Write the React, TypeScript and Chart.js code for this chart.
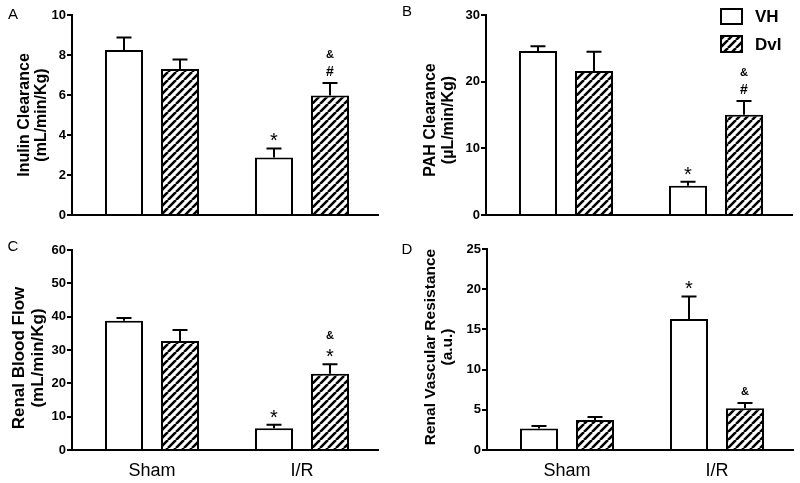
import React, { useEffect, useRef } from "react";
import { Chart, registerables } from "chart.js";
Chart.register(...registerables);

// ---------- data ----------
const groups = ["Sham", "I/R"];
const seriesNames = ["VH", "DvI"];

const inulinVH = [8.25, 2.88];
const inulinVHErr = [0.63, 0.45];
const inulinDvI = [7.3, 5.98];
const inulinDvIErr = [0.48, 0.62];
const inulinMarksVH = [[], ["*"]];
const inulinMarksDvI = [[], ["#", "&"]];
const inulinTicks = { max: 10, step: 2 };

const pahVH = [24.6, 4.4];
const pahVHErr = [0.7, 0.6];
const pahDvI = [21.6, 15.05];
const pahDvIErr = [2.9, 2.05];
const pahMarksVH = [[], ["*"]];
const pahMarksDvI = [[], ["#", "&"]];
const pahTicks = { max: 30, step: 10 };

const rbfVH = [38.8, 6.5];
const rbfVHErr = [0.8, 1.1];
const rbfDvI = [32.7, 22.9];
const rbfDvIErr = [3.3, 2.8];
const rbfMarksVH = [[], ["*"]];
const rbfMarksDvI = [[], ["*", "&"]];
const rbfTicks = { max: 60, step: 10 };

const rvrVH = [2.66, 16.3];
const rvrVHErr = [0.33, 2.8];
const rvrDvI = [3.74, 5.19];
const rvrDvIErr = [0.37, 0.67];
const rvrMarksVH = [[], ["*"]];
const rvrMarksDvI = [[], ["&"]];
const rvrTicks = { max: 25, step: 5 };

const FONT = "'Liberation Sans', Arial, Helvetica, sans-serif";

type Panel = {
  letter: string;
  title: string[];
  vh: number[]; vhErr: number[]; dv: number[]; dvErr: number[];
  marksVH: string[][]; marksDvI: string[][];
  ticks: { max: number; step: number };
  // layout
  left: number; top: number; w: number; h: number;
  axisX: number; plotTop: number; plotBottom: number;
  titleX: number[]; titleY: number; titleSize: number;
  letterPos: number[];
  showX: boolean; legend: boolean;
};

const panels: Panel[] = [
  {
    letter: "A", title: ["Inulin Clearance", "(mL/min/Kg)"],
    vh: inulinVH, vhErr: inulinVHErr, dv: inulinDvI, dvErr: inulinDvIErr,
    marksVH: inulinMarksVH, marksDvI: inulinMarksDvI, ticks: inulinTicks,
    left: 0, top: 0, w: 400, h: 240, axisX: 72, plotTop: 15, plotBottom: 215,
    titleX: [25, 42], titleY: 115, titleSize: 16, letterPos: [13, 15],
    showX: false, legend: false,
  },
  {
    letter: "B", title: ["PAH Clearance", "(\u00b5L/min/Kg)"],
    vh: pahVH, vhErr: pahVHErr, dv: pahDvI, dvErr: pahDvIErr,
    marksVH: pahMarksVH, marksDvI: pahMarksDvI, ticks: pahTicks,
    left: 400, top: 0, w: 400, h: 240, axisX: 86, plotTop: 15, plotBottom: 215,
    titleX: [31, 49], titleY: 120, titleSize: 16, letterPos: [7, 12],
    showX: false, legend: true,
  },
  {
    letter: "C", title: ["Renal Blood Flow", "(mL/min/Kg)"],
    vh: rbfVH, vhErr: rbfVHErr, dv: rbfDvI, dvErr: rbfDvIErr,
    marksVH: rbfMarksVH, marksDvI: rbfMarksDvI, ticks: rbfTicks,
    left: 0, top: 240, w: 400, h: 243, axisX: 72, plotTop: 10, plotBottom: 210,
    titleX: [19, 38], titleY: 118, titleSize: 17, letterPos: [13, 7],
    showX: true, legend: false,
  },
  {
    letter: "D", title: ["Renal Vascular Resistance", "(a.u.)"],
    vh: rvrVH, vhErr: rvrVHErr, dv: rvrDvI, dvErr: rvrDvIErr,
    marksVH: rvrMarksVH, marksDvI: rvrMarksDvI, ticks: rvrTicks,
    left: 400, top: 240, w: 400, h: 243, axisX: 87, plotTop: 9, plotBottom: 210,
    titleX: [31, 48], titleY: 107, titleSize: 15.5, letterPos: [7, 10],
    showX: true, legend: false,
  },
];

function makeHatch(): CanvasPattern | string {
  const s = 8;
  const c = document.createElement("canvas");
  c.width = s; c.height = s;
  const g = c.getContext("2d");
  if (!g) return "#888";
  g.fillStyle = "#fff";
  g.fillRect(0, 0, s, s);
  g.strokeStyle = "#000";
  g.lineWidth = 2.6;
  g.beginPath();
  for (let k = -1; k <= 1; k++) {
    g.moveTo(k * s, s);
    g.lineTo(k * s + s, 0);
  }
  g.stroke();
  return g.createPattern(c, "repeat") as CanvasPattern;
}

function drawMarks(ctx: CanvasRenderingContext2D, marks: string[], x: number, topY: number) {
  let cy = topY - 12;
  marks.forEach((m) => {
    ctx.textAlign = "center";
    ctx.textBaseline = "alphabetic";
    if (m === "*") {
      ctx.font = `20px ${FONT}`;
      ctx.fillText(m, x, cy + 11);
    } else if (m === "#") {
      ctx.font = `bold 14px ${FONT}`;
      ctx.fillText(m, x, cy + 5);
    } else {
      ctx.font = `bold 11px ${FONT}`;
      ctx.fillText(m, x, cy + 4);
    }
    cy -= 17;
  });
}

function PanelChart({ p }: { p: Panel }) {
  const ref = useRef<HTMLCanvasElement | null>(null);
  useEffect(() => {
    if (!ref.current) return;
    const hatch = makeHatch();
    const errs = [p.vhErr, p.dvErr];
    const marks = [p.marksVH, p.marksDvI];
    const fills = ["#fff", hatch];

    const overlay = {
      id: "overlay" + p.letter,
      afterDatasetsDraw(chart: any) {
        const ctx: CanvasRenderingContext2D = chart.ctx;
        const ys = chart.scales.y;
        ctx.save();
        ctx.fillStyle = "#000";
        ctx.strokeStyle = "#000";
        ctx.lineWidth = 2;
        [0, 1].forEach((di) => {
          const meta = chart.getDatasetMeta(di);
          meta.data.forEach((bar: any, i: number) => {
            const v = chart.data.datasets[di].data[i].y;
            const base = ys.getPixelForValue(v);
            const top = ys.getPixelForValue(v + errs[di][i]);
            ctx.beginPath();
            ctx.moveTo(bar.x, base);
            ctx.lineTo(bar.x, top);
            ctx.moveTo(bar.x - 7.5, top);
            ctx.lineTo(bar.x + 7.5, top);
            ctx.stroke();
            drawMarks(ctx, marks[di][i], bar.x, top);
          });
        });
        ctx.restore();
      },
      afterDraw(chart: any) {
        const ctx: CanvasRenderingContext2D = chart.ctx;
        ctx.save();
        ctx.fillStyle = "#000";
        // panel letter
        ctx.font = `15px ${FONT}`;
        ctx.textAlign = "center";
        ctx.textBaseline = "middle";
        ctx.fillText(p.letter, p.letterPos[0], p.letterPos[1]);
        // y title
        ctx.font = `bold ${p.titleSize}px ${FONT}`;
        p.title.forEach((line, k) => {
          ctx.save();
          ctx.translate(p.titleX[k], p.titleY);
          ctx.rotate(-Math.PI / 2);
          ctx.textAlign = "center";
          ctx.textBaseline = "middle";
          ctx.fillText(line, 0, 0);
          ctx.restore();
        });
        if (p.legend) {
          const bx = 321;
          const boxes = [[9, 15], [36, 16]];
          seriesNames.forEach((name, k) => {
            ctx.fillStyle = fills[k] as any;
            ctx.fillRect(bx, boxes[k][0], 21, boxes[k][1]);
            ctx.strokeStyle = "#000";
            ctx.lineWidth = 2;
            ctx.strokeRect(bx, boxes[k][0], 21, boxes[k][1]);
            ctx.fillStyle = "#000";
            ctx.font = `bold 17px ${FONT}`;
            ctx.textAlign = "left";
            ctx.textBaseline = "middle";
            ctx.fillText(name, 355, boxes[k][0] + boxes[k][1] / 2 + 1);
          });
        }
        ctx.restore();
      },
    };

    const plotRight = p.axisX + 306;
    const xMin = 1 - 80 / 150;
    const xMax = 2 + 76 / 150;

    const chart = new Chart(ref.current, {
      type: "bar",
      data: {
        datasets: [
          {
            label: seriesNames[0],
            data: groups.map((_, i) => ({ x: i + 1, y: p.vh[i] })) as any,
            backgroundColor: "#fff",
            borderColor: "#000",
            borderWidth: 2,
          },
          {
            label: seriesNames[1],
            data: groups.map((_, i) => ({ x: i + 1, y: p.dv[i] })) as any,
            backgroundColor: hatch as any,
            borderColor: "#000",
            borderWidth: 2,
          },
        ],
      },
      options: {
        responsive: false,
        animation: false,
        events: [],
        categoryPercentage: 0.7467,
        barPercentage: 0.679,
        layout: { padding: { left: 0, top: p.plotTop, right: p.w - plotRight, bottom: 0 } },
        plugins: { legend: { display: false }, tooltip: { enabled: false }, title: { display: false } },
        scales: {
          x: {
            type: "linear",
            offset: false,
            min: xMin,
            max: xMax,
            afterBuildTicks: (s: any) => {
              s.ticks = groups.map((_, i) => ({ value: i + 1 }));
            },
            ticks: {
              display: p.showX,
              autoSkip: false,
              maxRotation: 0,
              padding: 10,
              color: "#000",
              font: { family: FONT, size: 18 },
              callback: (v: any) => groups[Math.round(v) - 1] ?? "",
            },
            grid: { display: false, drawTicks: false, offset: false },
            border: { display: true, color: "#000", width: 2 },
            afterFit: (s: any) => {
              s.height = p.h - p.plotBottom;
            },
          } as any,
          y: {
            min: 0,
            max: p.ticks.max,
            ticks: {
              stepSize: p.ticks.step,
              color: "#000",
              padding: 1,
              font: { family: FONT, size: 13, weight: "bold" },
            },
            grid: { display: true, drawOnChartArea: false, drawTicks: true, tickLength: 5, color: "#000", lineWidth: 2 },
            border: { display: true, color: "#000", width: 2 },
            afterFit: (s: any) => {
              s.width = p.axisX;
            },
          } as any,
        },
      } as any,
      plugins: [overlay],
    });
    return () => chart.destroy();
  }, [p]);
  return (
    <canvas
      ref={ref}
      width={p.w}
      height={p.h}
      style={{ position: "absolute", left: p.left, top: p.top, width: p.w, height: p.h }}
    />
  );
}

export default function App() {
  return (
    <div style={{ position: "absolute", left: 0, top: 0, width: 800, height: 483, background: "#fff", overflow: "hidden" }}>
      {panels.map((p) => (
        <PanelChart key={p.letter} p={p} />
      ))}
    </div>
  );
}
